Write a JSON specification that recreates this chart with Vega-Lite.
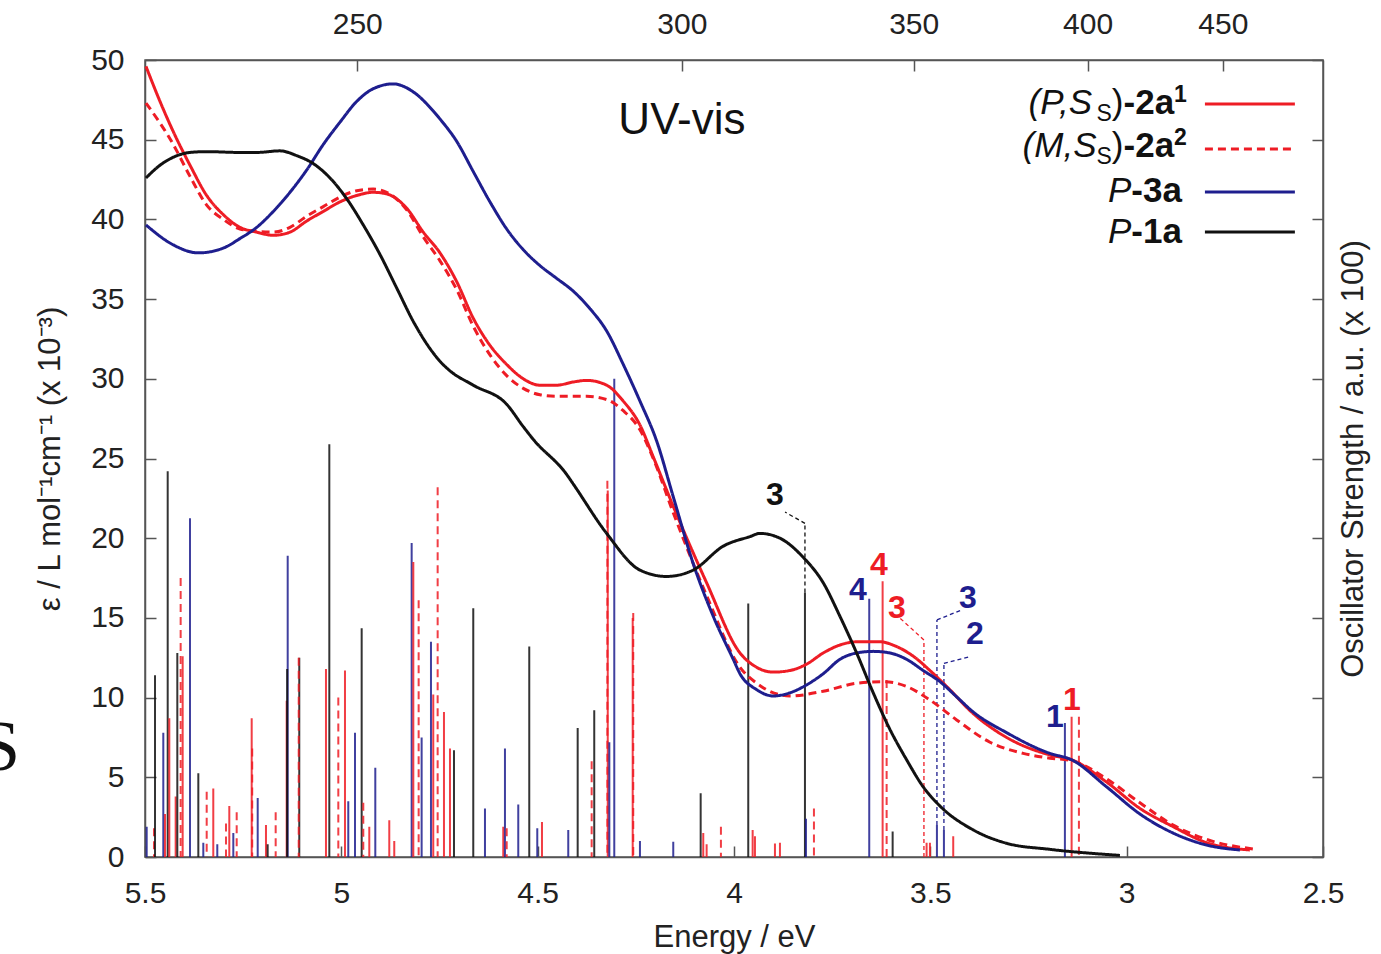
{
"$schema": "https://vega.github.io/schema/vega-lite/v6.json",
"width": 1178, "height": 797,
"autosize": {"type": "none"},
"padding": {"left": 145, "top": 60, "right": 58, "bottom": 97},
"background": "white",
"config": {
 "view": {"stroke": "#555", "strokeWidth": 1.5},
 "font": "Liberation Sans",
 "axis": {"grid": false, "domainColor": "#555", "domainWidth": 1.5, "tickColor": "#555", "tickWidth": 1.5, "tickSize": -11, "labelPadding": 32, "labelFont": "Liberation Sans", "labelFontSize": 30, "labelColor": "#222", "titleFont": "Liberation Sans", "titleFontSize": 31, "titleFontWeight": "normal", "titleColor": "#222", "labelOverlap": false, "labelFlush": false}
},
"datasets": {
 "curves": [
  {"E":5.4975,"eps":49.6,"s":"a1"},{"E":5.4618,"eps":47.4,"s":"a1"},{"E":5.4279,"eps":45.5,"s":"a1"},{"E":5.3854,"eps":43.4,"s":"a1"},{"E":5.3429,"eps":41.5,"s":"a1"},{"E":5.3006,"eps":40.3,"s":"a1"},{"E":5.2581,"eps":39.5,"s":"a1"},{"E":5.2156,"eps":39.2,"s":"a1"},{"E":5.1733,"eps":39.0,"s":"a1"},{"E":5.1308,"eps":39.2,"s":"a1"},{"E":5.0882,"eps":39.9,"s":"a1"},{"E":5.046,"eps":40.5,"s":"a1"},{"E":5.0034,"eps":41.1,"s":"a1"},{"E":4.9609,"eps":41.5,"s":"a1"},{"E":4.9186,"eps":41.7,"s":"a1"},{"E":4.8846,"eps":41.6,"s":"a1"},{"E":4.8336,"eps":40.7,"s":"a1"},{"E":4.7913,"eps":39.2,"s":"a1"},{"E":4.7488,"eps":37.9,"s":"a1"},{"E":4.7063,"eps":36.1,"s":"a1"},{"E":4.664,"eps":33.8,"s":"a1"},{"E":4.6215,"eps":32.1,"s":"a1"},{"E":4.5789,"eps":30.9,"s":"a1"},{"E":4.5367,"eps":30.0,"s":"a1"},{"E":4.4941,"eps":29.6,"s":"a1"},{"E":4.4516,"eps":29.6,"s":"a1"},{"E":4.4094,"eps":29.8,"s":"a1"},{"E":4.3752,"eps":29.9,"s":"a1"},{"E":4.3243,"eps":29.6,"s":"a1"},{"E":4.282,"eps":28.6,"s":"a1"},{"E":4.2395,"eps":27.1,"s":"a1"},{"E":4.2056,"eps":25.1,"s":"a1"},{"E":4.1547,"eps":22.0,"s":"a1"},{"E":4.0697,"eps":17.2,"s":"a1"},{"E":3.9848,"eps":12.8,"s":"a1"},{"E":3.9423,"eps":11.9,"s":"a1"},{"E":3.9,"eps":11.6,"s":"a1"},{"E":3.8575,"eps":11.7,"s":"a1"},{"E":3.815,"eps":12.1,"s":"a1"},{"E":3.7727,"eps":12.8,"s":"a1"},{"E":3.7302,"eps":13.3,"s":"a1"},{"E":3.6877,"eps":13.5,"s":"a1"},{"E":3.6283,"eps":13.5,"s":"a1"},{"E":3.5858,"eps":13.2,"s":"a1"},{"E":3.5436,"eps":12.6,"s":"a1"},{"E":3.501,"eps":11.7,"s":"a1"},{"E":3.4585,"eps":10.7,"s":"a1"},{"E":3.3908,"eps":9.0,"s":"a1"},{"E":3.3057,"eps":7.5,"s":"a1"},{"E":3.1954,"eps":6.4,"s":"a1"},{"E":3.1402,"eps":6.1,"s":"a1"},{"E":3.0511,"eps":4.7,"s":"a1"},{"E":2.9663,"eps":3.05,"s":"a1"},{"E":2.8815,"eps":1.9,"s":"a1"},{"E":2.7964,"eps":0.9,"s":"a1"},{"E":2.6862,"eps":0.44,"s":"a1"},
  {"E":5.4975,"eps":47.3,"s":"a2"},{"E":5.4279,"eps":44.7,"s":"a2"},{"E":5.3854,"eps":42.7,"s":"a2"},{"E":5.3429,"eps":40.9,"s":"a2"},{"E":5.3006,"eps":40.0,"s":"a2"},{"E":5.2581,"eps":39.4,"s":"a2"},{"E":5.2156,"eps":39.25,"s":"a2"},{"E":5.1733,"eps":39.2,"s":"a2"},{"E":5.1308,"eps":39.5,"s":"a2"},{"E":5.0882,"eps":40.2,"s":"a2"},{"E":5.046,"eps":40.8,"s":"a2"},{"E":5.0034,"eps":41.4,"s":"a2"},{"E":4.9609,"eps":41.8,"s":"a2"},{"E":4.9186,"eps":41.9,"s":"a2"},{"E":4.8846,"eps":41.7,"s":"a2"},{"E":4.8336,"eps":40.6,"s":"a2"},{"E":4.7913,"eps":38.9,"s":"a2"},{"E":4.7488,"eps":37.4,"s":"a2"},{"E":4.7063,"eps":35.6,"s":"a2"},{"E":4.664,"eps":33.3,"s":"a2"},{"E":4.6215,"eps":31.5,"s":"a2"},{"E":4.5789,"eps":30.2,"s":"a2"},{"E":4.5367,"eps":29.4,"s":"a2"},{"E":4.4941,"eps":29.0,"s":"a2"},{"E":4.4516,"eps":28.9,"s":"a2"},{"E":4.4094,"eps":28.9,"s":"a2"},{"E":4.3752,"eps":28.9,"s":"a2"},{"E":4.3243,"eps":28.7,"s":"a2"},{"E":4.282,"eps":28.0,"s":"a2"},{"E":4.2395,"eps":26.8,"s":"a2"},{"E":4.2056,"eps":25.0,"s":"a2"},{"E":4.1547,"eps":21.6,"s":"a2"},{"E":4.0697,"eps":16.4,"s":"a2"},{"E":3.9848,"eps":11.9,"s":"a2"},{"E":3.9423,"eps":10.9,"s":"a2"},{"E":3.8575,"eps":10.1,"s":"a2"},{"E":3.7727,"eps":10.4,"s":"a2"},{"E":3.6877,"eps":10.9,"s":"a2"},{"E":3.6199,"eps":11.0,"s":"a2"},{"E":3.5604,"eps":10.7,"s":"a2"},{"E":3.501,"eps":9.85,"s":"a2"},{"E":3.433,"eps":8.6,"s":"a2"},{"E":3.3482,"eps":7.2,"s":"a2"},{"E":3.2634,"eps":6.5,"s":"a2"},{"E":3.1954,"eps":6.2,"s":"a2"},{"E":3.1402,"eps":6.05,"s":"a2"},{"E":3.0511,"eps":4.9,"s":"a2"},{"E":2.9663,"eps":3.4,"s":"a2"},{"E":2.8815,"eps":2.0,"s":"a2"},{"E":2.7964,"eps":1.1,"s":"a2"},{"E":2.6778,"eps":0.5,"s":"a2"},
  {"E":5.4975,"eps":39.65,"s":"b"},{"E":5.4279,"eps":38.4,"s":"b"},{"E":5.3643,"eps":37.9,"s":"b"},{"E":5.3006,"eps":38.2,"s":"b"},{"E":5.2581,"eps":38.8,"s":"b"},{"E":5.2156,"eps":39.5,"s":"b"},{"E":5.1733,"eps":40.5,"s":"b"},{"E":5.1308,"eps":41.7,"s":"b"},{"E":5.0882,"eps":43.1,"s":"b"},{"E":5.046,"eps":44.7,"s":"b"},{"E":5.0034,"eps":46.1,"s":"b"},{"E":4.9609,"eps":47.4,"s":"b"},{"E":4.9186,"eps":48.2,"s":"b"},{"E":4.8677,"eps":48.5,"s":"b"},{"E":4.8168,"eps":48.0,"s":"b"},{"E":4.7659,"eps":46.8,"s":"b"},{"E":4.7488,"eps":46.3,"s":"b"},{"E":4.7063,"eps":44.9,"s":"b"},{"E":4.664,"eps":43.0,"s":"b"},{"E":4.6215,"eps":41.1,"s":"b"},{"E":4.5789,"eps":39.4,"s":"b"},{"E":4.5367,"eps":38.1,"s":"b"},{"E":4.4941,"eps":37.1,"s":"b"},{"E":4.4516,"eps":36.3,"s":"b"},{"E":4.4094,"eps":35.5,"s":"b"},{"E":4.3668,"eps":34.4,"s":"b"},{"E":4.3243,"eps":33.0,"s":"b"},{"E":4.282,"eps":30.9,"s":"b"},{"E":4.2395,"eps":28.6,"s":"b"},{"E":4.197,"eps":26.1,"s":"b"},{"E":4.1547,"eps":22.6,"s":"b"},{"E":4.1038,"eps":18.4,"s":"b"},{"E":4.0528,"eps":15.1,"s":"b"},{"E":4.0019,"eps":12.4,"s":"b"},{"E":3.9848,"eps":11.5,"s":"b"},{"E":3.9423,"eps":10.5,"s":"b"},{"E":3.9,"eps":10.1,"s":"b"},{"E":3.8575,"eps":10.3,"s":"b"},{"E":3.815,"eps":10.8,"s":"b"},{"E":3.7727,"eps":11.5,"s":"b"},{"E":3.7302,"eps":12.4,"s":"b"},{"E":3.6877,"eps":12.8,"s":"b"},{"E":3.6454,"eps":12.9,"s":"b"},{"E":3.6028,"eps":12.8,"s":"b"},{"E":3.5604,"eps":12.4,"s":"b"},{"E":3.5181,"eps":11.7,"s":"b"},{"E":3.4755,"eps":11.0,"s":"b"},{"E":3.433,"eps":10.05,"s":"b"},{"E":3.3908,"eps":9.1,"s":"b"},{"E":3.3057,"eps":7.8,"s":"b"},{"E":3.1954,"eps":6.5,"s":"b"},{"E":3.1402,"eps":6.1,"s":"b"},{"E":3.0511,"eps":4.4,"s":"b"},{"E":2.9663,"eps":2.7,"s":"b"},{"E":2.8815,"eps":1.5,"s":"b"},{"E":2.7964,"eps":0.75,"s":"b"},{"E":2.7116,"eps":0.44,"s":"b"},
  {"E":5.4975,"eps":42.6,"s":"k"},{"E":5.4618,"eps":43.4,"s":"k"},{"E":5.4279,"eps":43.9,"s":"k"},{"E":5.3854,"eps":44.2,"s":"k"},{"E":5.3429,"eps":44.25,"s":"k"},{"E":5.2581,"eps":44.2,"s":"k"},{"E":5.2156,"eps":44.2,"s":"k"},{"E":5.1562,"eps":44.3,"s":"k"},{"E":5.1137,"eps":44.0,"s":"k"},{"E":5.0714,"eps":43.5,"s":"k"},{"E":5.0289,"eps":42.6,"s":"k"},{"E":4.9864,"eps":41.3,"s":"k"},{"E":4.9441,"eps":39.65,"s":"k"},{"E":4.9016,"eps":37.8,"s":"k"},{"E":4.8591,"eps":35.7,"s":"k"},{"E":4.8168,"eps":33.6,"s":"k"},{"E":4.7743,"eps":31.9,"s":"k"},{"E":4.7488,"eps":31.1,"s":"k"},{"E":4.7233,"eps":30.5,"s":"k"},{"E":4.664,"eps":29.6,"s":"k"},{"E":4.5789,"eps":28.4,"s":"k"},{"E":4.5367,"eps":27.0,"s":"k"},{"E":4.5112,"eps":26.2,"s":"k"},{"E":4.4262,"eps":24.0,"s":"k"},{"E":4.4094,"eps":23.4,"s":"k"},{"E":4.3243,"eps":20.3,"s":"k"},{"E":4.2395,"eps":18.0,"s":"k"},{"E":4.1715,"eps":17.6,"s":"k"},{"E":4.1038,"eps":18.0,"s":"k"},{"E":4.0274,"eps":19.5,"s":"k"},{"E":3.9594,"eps":20.1,"s":"k"},{"E":3.9339,"eps":20.3,"s":"k"},{"E":3.883,"eps":20.0,"s":"k"},{"E":3.8237,"eps":18.8,"s":"k"},{"E":3.7727,"eps":17.2,"s":"k"},{"E":3.7302,"eps":15.1,"s":"k"},{"E":3.6877,"eps":12.8,"s":"k"},{"E":3.6454,"eps":10.3,"s":"k"},{"E":3.6028,"eps":8.0,"s":"k"},{"E":3.5604,"eps":6.1,"s":"k"},{"E":3.5181,"eps":4.4,"s":"k"},{"E":3.4755,"eps":3.2,"s":"k"},{"E":3.3908,"eps":1.7,"s":"k"},{"E":3.3057,"eps":0.86,"s":"k"},{"E":3.1954,"eps":0.48,"s":"k"},{"E":3.0172,"eps":0.1,"s":"k"}
 ],
 "sticks": [
  {"E":5.4957,"eps":1.9,"s":"b"},{"E":5.4771,"eps":1.8,"s":"a2"},{"E":5.4745,"eps":11.4,"s":"k"},{"E":5.4534,"eps":7.8,"s":"b"},{"E":5.4491,"eps":2.7,"s":"a1"},{"E":5.4422,"eps":24.2,"s":"k"},{"E":5.4381,"eps":8.7,"s":"a1"},{"E":5.4219,"eps":3.8,"s":"a1"},{"E":5.4177,"eps":12.8,"s":"k"},{"E":5.4092,"eps":17.5,"s":"a2"},{"E":5.4041,"eps":12.6,"s":"a1"},{"E":5.3854,"eps":21.25,"s":"b"},{"E":5.3642,"eps":5.25,"s":"k"},{"E":5.3515,"eps":0.9,"s":"b"},{"E":5.3429,"eps":4.1,"s":"a2"},{"E":5.3261,"eps":4.3,"s":"a1"},{"E":5.3159,"eps":0.8,"s":"b"},{"E":5.2937,"eps":2.1,"s":"a2"},{"E":5.2853,"eps":3.2,"s":"a1"},{"E":5.2751,"eps":1.5,"s":"b"},{"E":5.2665,"eps":2.8,"s":"a2"},{"E":5.2283,"eps":8.7,"s":"a1"},{"E":5.227,"eps":6.8,"s":"a2"},{"E":5.213,"eps":3.7,"s":"b"},{"E":5.1919,"eps":2.0,"s":"a1"},{"E":5.1876,"eps":0.8,"s":"k"},{"E":5.1672,"eps":2.8,"s":"a2"},{"E":5.1392,"eps":9.8,"s":"a1"},{"E":5.1366,"eps":18.9,"s":"b"},{"E":5.138,"eps":11.8,"s":"k"},{"E":5.1071,"eps":12.5,"s":"k"},{"E":5.1085,"eps":12.5,"s":"a2"},{"E":5.0391,"eps":11.8,"s":"a1"},{"E":5.0306,"eps":25.9,"s":"k"},{"E":5.0077,"eps":10.0,"s":"a2"},{"E":4.9907,"eps":11.7,"s":"a1"},{"E":4.9823,"eps":3.5,"s":"b"},{"E":4.9652,"eps":7.8,"s":"b"},{"E":4.9482,"eps":14.35,"s":"k"},{"E":4.9441,"eps":3.4,"s":"a2"},{"E":4.9288,"eps":1.9,"s":"a1"},{"E":4.9135,"eps":5.6,"s":"b"},{"E":4.8779,"eps":2.3,"s":"a1"},{"E":4.8652,"eps":1.0,"s":"a1"},{"E":4.8209,"eps":19.7,"s":"b"},{"E":4.8167,"eps":18.5,"s":"a1"},{"E":4.8031,"eps":16.1,"s":"a2"},{"E":4.7955,"eps":7.5,"s":"b"},{"E":4.7717,"eps":13.5,"s":"b"},{"E":4.7659,"eps":10.2,"s":"a1"},{"E":4.7547,"eps":23.2,"s":"a2"},{"E":4.7386,"eps":9.1,"s":"a1"},{"E":4.7233,"eps":6.8,"s":"a1"},{"E":4.7131,"eps":6.7,"s":"k"},{"E":4.664,"eps":15.6,"s":"k"},{"E":4.6342,"eps":3.05,"s":"b"},{"E":4.5876,"eps":1.9,"s":"a1"},{"E":4.5833,"eps":6.8,"s":"b"},{"E":4.5789,"eps":1.8,"s":"a2"},{"E":4.5494,"eps":3.3,"s":"b"},{"E":4.5214,"eps":13.2,"s":"k"},{"E":4.501,"eps":1.8,"s":"b"},{"E":4.489,"eps":2.2,"s":"a1"},{"E":4.4221,"eps":1.7,"s":"b"},{"E":4.3981,"eps":8.1,"s":"k"},{"E":4.3625,"eps":6.0,"s":"a2"},{"E":4.3559,"eps":9.2,"s":"k"},{"E":4.3225,"eps":23.6,"s":"a2"},{"E":4.3215,"eps":23.0,"s":"a1"},{"E":4.3175,"eps":7.2,"s":"b"},{"E":4.3049,"eps":30.0,"s":"b"},{"E":4.2566,"eps":15.3,"s":"a2"},{"E":4.258,"eps":15.0,"s":"a1"},{"E":4.2395,"eps":1.0,"s":"b"},{"E":4.1547,"eps":0.95,"s":"b"},{"E":4.0849,"eps":4.0,"s":"k"},{"E":4.0783,"eps":1.5,"s":"a1"},{"E":4.0697,"eps":0.8,"s":"a1"},{"E":4.0333,"eps":1.9,"s":"a2"},{"E":3.9637,"eps":15.9,"s":"k"},{"E":3.9525,"eps":1.7,"s":"a1"},{"E":3.9466,"eps":1.3,"s":"a1"},{"E":3.8957,"eps":0.85,"s":"a1"},{"E":3.883,"eps":0.9,"s":"a1"},{"E":3.8193,"eps":16.6,"s":"k"},{"E":3.8167,"eps":2.4,"s":"b"},{"E":3.7964,"eps":3.05,"s":"a2"},{"E":3.6556,"eps":16.2,"s":"b"},{"E":3.6215,"eps":17.3,"s":"a1"},{"E":3.6113,"eps":11.1,"s":"a2"},{"E":3.596,"eps":1.6,"s":"k"},{"E":3.5095,"eps":0.9,"s":"a1"},{"E":3.501,"eps":0.9,"s":"a1"},{"E":3.4832,"eps":2.0,"s":"b"},{"E":3.4654,"eps":1.7,"s":"b"},{"E":3.4417,"eps":1.3,"s":"a1"},{"E":3.1573,"eps":8.4,"s":"b"},{"E":3.1402,"eps":8.8,"s":"a1"},{"E":3.1216,"eps":8.8,"s":"a2"}
 ],
 "leaders": [
  {"E":3.8193,"eps":16.6,"E2":3.8193,"eps2":20.93,"s":"k"},{"E":3.8193,"eps":20.93,"E2":3.87,"eps2":21.64,"s":"k"},
  {"E":3.5163,"eps":0,"E2":3.5163,"eps2":13.61,"s":"a1"},{"E":3.5163,"eps":13.61,"E2":3.5858,"eps2":15.18,"s":"a1"},
  {"E":3.4832,"eps":2.0,"E2":3.4832,"eps2":14.87,"s":"b"},{"E":3.4832,"eps":14.87,"E2":3.4203,"eps2":15.5,"s":"b"},
  {"E":3.4654,"eps":1.7,"E2":3.4654,"eps2":12.15,"s":"b"},{"E":3.4654,"eps":12.15,"E2":3.3992,"eps2":12.57,"s":"b"}
 ],
 "numlabels": [
  {"E":3.8957,"eps":22.71,"t":"3","s":"k"},{"E":3.6844,"eps":16.75,"t":"4","s":"b"},{"E":3.6309,"eps":18.32,"t":"4","s":"a1"},{"E":3.585,"eps":15.62,"t":"3","s":"a1"},{"E":3.4042,"eps":16.25,"t":"3","s":"b"},{"E":3.3864,"eps":13.99,"t":"2","s":"b"},{"E":3.1827,"eps":8.78,"t":"1","s":"b"},{"E":3.1394,"eps":9.85,"t":"1","s":"a1"}
 ],
 "leglines": [
  {"E":2.8007,"E2":2.5716,"eps":47.24,"s":"a1"},{"E":2.8007,"E2":2.5716,"eps":44.42,"s":"a2"},{"E":2.8007,"E2":2.5716,"eps":41.72,"s":"b"},{"E":2.8007,"E2":2.5716,"eps":39.21,"s":"k"}
 ],
 "legtext": [
  {"E":3.2499,"eps":46.61,"t":"(P,S","st":"it"},{"E":3.0768,"eps":46.17,"t":"S","st":"sub"},{"E":3.0378,"eps":46.61,"t":")","st":"rg"},{"E":3.008,"eps":46.61,"t":"-2a","st":"bd"},{"E":2.8792,"eps":47.37,"t":"1","st":"sup"},
  {"E":3.265,"eps":43.91,"t":"(M,S","st":"it"},{"E":3.0768,"eps":43.48,"t":"S","st":"sub"},{"E":3.0378,"eps":43.91,"t":")","st":"rg"},{"E":3.008,"eps":43.91,"t":"-2a","st":"bd"},{"E":2.8792,"eps":44.67,"t":"2","st":"sup"},
  {"E":3.0475,"eps":41.09,"t":"P","st":"it"},{"E":2.9882,"eps":41.09,"t":"-3a","st":"bd"},
  {"E":3.0475,"eps":38.52,"t":"P","st":"it"},{"E":2.9882,"eps":38.52,"t":"-1a","st":"bd"}
 ],
 "stray": [{"E":5.8692,"eps":5.46,"t":"S"}],
 "title": [{"E":4.1326,"eps":45.36,"t":"UV-vis"}]
},
"layer": [
 {
  "encoding": {
   "x": {"field": "E", "type": "quantitative", "scale": {"domain": [2.5, 5.5], "reverse": true, "nice": false, "zero": false}, "axis": {"title": "Energy / eV", "values": [2.5, 3, 3.5, 4, 4.5, 5, 5.5], "format": "~g", "titlePadding": 14}},
   "y": {"field": "eps", "type": "quantitative", "scale": {"domain": [0, 50], "nice": false, "zero": false}, "axis": {"title": "ε / L mol⁻¹cm⁻¹ (x 10⁻³)", "values": [0, 5, 10, 15, 20, 25, 30, 35, 40, 45, 50], "titlePadding": 24}}
  },
  "layer": [
   {"data": {"name": "sticks"}, "mark": {"type": "rule", "strokeWidth": 2, "opacity": 0.85},
    "encoding": {"y2": {"datum": 0},
     "color": {"field": "s", "type": "nominal", "scale": {"domain": ["a1", "a2", "b", "k"], "range": ["#ee1c25", "#ee1c25", "#1e1e8e", "#111111"]}, "legend": null},
     "strokeDash": {"field": "s", "type": "nominal", "scale": {"domain": ["a1", "a2", "b", "k"], "range": [[1, 0], [8, 5], [1, 0], [1, 0]]}, "legend": null}}},
   {"data": {"name": "leaders"}, "mark": {"type": "rule", "strokeWidth": 1.3, "strokeDash": [4, 3]},
    "encoding": {"x2": {"field": "E2"}, "y2": {"field": "eps2"}, "color": {"field": "s", "type": "nominal", "legend": null}}},
   {"data": {"name": "curves"}, "mark": {"type": "line", "strokeWidth": 3, "interpolate": "monotone"},
    "encoding": {"color": {"field": "s", "type": "nominal", "legend": null}, "strokeDash": {"field": "s", "type": "nominal", "legend": null}}},
   {"data": {"name": "numlabels"}, "mark": {"type": "text", "fontSize": 32, "fontWeight": "bold", "align": "center", "baseline": "middle"},
    "encoding": {"text": {"field": "t"}, "color": {"field": "s", "type": "nominal", "legend": null}}},
   {"data": {"name": "leglines"}, "mark": {"type": "rule", "strokeWidth": 3},
    "encoding": {"x2": {"field": "E2"}, "color": {"field": "s", "type": "nominal", "legend": null}, "strokeDash": {"field": "s", "type": "nominal", "legend": null}}},
   {"data": {"name": "legtext"}, "transform": [{"filter": "datum.st == 'it'"}], "mark": {"type": "text", "fontSize": 35, "fontStyle": "italic", "align": "left", "baseline": "alphabetic", "color": "#111"}, "encoding": {"text": {"field": "t"}}},
   {"data": {"name": "legtext"}, "transform": [{"filter": "datum.st == 'rg'"}], "mark": {"type": "text", "fontSize": 35, "align": "left", "baseline": "alphabetic", "color": "#111"}, "encoding": {"text": {"field": "t"}}},
   {"data": {"name": "legtext"}, "transform": [{"filter": "datum.st == 'bd'"}], "mark": {"type": "text", "fontSize": 35, "fontWeight": "bold", "align": "left", "baseline": "alphabetic", "color": "#111"}, "encoding": {"text": {"field": "t"}}},
   {"data": {"name": "legtext"}, "transform": [{"filter": "datum.st == 'sub'"}], "mark": {"type": "text", "fontSize": 23, "align": "left", "baseline": "alphabetic", "color": "#111"}, "encoding": {"text": {"field": "t"}}},
   {"data": {"name": "legtext"}, "transform": [{"filter": "datum.st == 'sup'"}], "mark": {"type": "text", "fontSize": 23, "fontWeight": "bold", "align": "left", "baseline": "alphabetic", "color": "#111"}, "encoding": {"text": {"field": "t"}}},
   {"data": {"name": "stray"}, "mark": {"type": "text", "fontSize": 72, "font": "Liberation Serif", "align": "center", "baseline": "alphabetic", "color": "#111"}, "encoding": {"text": {"field": "t"}}}
  ]
 },
 {
  "data": {"name": "title"},
  "mark": {"type": "text", "fontSize": 44, "align": "center", "baseline": "alphabetic", "color": "#111"},
  "encoding": {
   "x": {"field": "E", "type": "quantitative", "scale": {"domain": [2.5, 5.5], "reverse": true, "nice": false, "zero": false}, "axis": {"orient": "top", "values": [4.9594, 4.1328, 3.5424, 3.0996, 2.7552], "labelExpr": "round(1239.84 / datum.value)", "title": null}},
   "y": {"field": "eps", "type": "quantitative", "scale": {"domain": [0, 50], "nice": false, "zero": false}, "axis": {"orient": "right", "values": [0, 5, 10, 15, 20, 25, 30, 35, 40, 45, 50], "labels": false, "title": "Oscillator Strength / a.u. (x 100)", "titleAngle": 270, "titlePadding": 46}},
   "text": {"field": "t"}
  }
 }
],
"resolve": {"scale": {"x": "independent", "y": "independent"}}
}
